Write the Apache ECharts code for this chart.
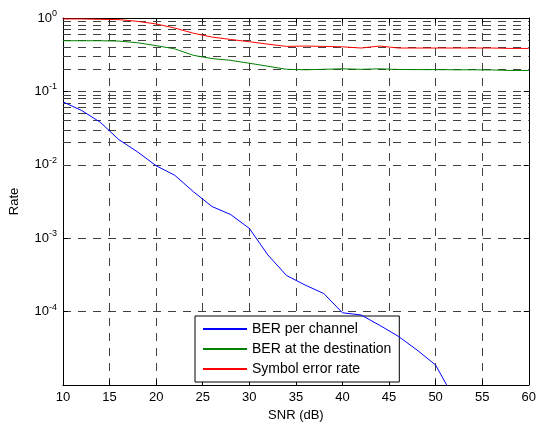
<!DOCTYPE html>
<html>
<head>
<meta charset="utf-8">
<script src="https://cdn.jsdelivr.net/npm/echarts@6/dist/echarts.min.js"></script>
<style>html,body{margin:0;padding:0;background:#fff}#c{width:539px;height:430px}</style>
</head>
<body>
<div id="c"></div>
<script>
var snr = [10,12,14,16,18,20,22,24,26,28,30,32,34,36,38,40,42,44,46,48,50,52,54,56,58,60];
var berChannel = [0.072,0.055,0.038,0.022,0.015,0.0097,0.0072,0.0043,0.0027,0.0021,0.00136,0.00059,0.00031,0.00023,0.000176,0.0000963,0.00009,0.000065,0.000046,0.00003,0.0000187,0.0000065];
var berDest = [0.49,0.49,0.49,0.485,0.46,0.42,0.38,0.31,0.28,0.265,0.242,0.22,0.2,0.197,0.2,0.203,0.2,0.203,0.199,0.198,0.198,0.197,0.197,0.196,0.193,0.193];
var ser = [0.97,0.97,0.96,0.95,0.9,0.83,0.73,0.62,0.55,0.51,0.475,0.44,0.41,0.415,0.41,0.405,0.39,0.415,0.39,0.39,0.39,0.39,0.39,0.39,0.385,0.385];
var seriesNames = ['BER per channel','BER at the destination','Symbol error rate'];
var xTicks = {min:10, max:60, interval:5};
var yRange = {min:1e-5, max:1};
var minorGrid = [];
[-5,-4,-3,-2,-1].forEach(function(k){ for (var m=2;m<=9;m++) minorGrid.push(+(m*Math.pow(10,k)).toPrecision(3)); });

function pairs(ys){ return ys.map(function(v,i){ return [snr[i], v]; }); }
var font = "'Liberation Sans', Arial, sans-serif";
var dash = [8,7];
var gridColor = '#404040';

var chart = echarts.init(document.getElementById('c'), null, {renderer:'canvas'});
chart.setOption({
  animation:false,
  backgroundColor:'#fff',
  textStyle:{fontFamily:font, color:'#000'},
  grid:{left:63, right:9, top:18, bottom:45, show:false},
  legend:{
    orient:'vertical', left:195, top:316,
    backgroundColor:'#fff', borderColor:'#000', borderWidth:1,
    padding:[6,8,6,8], itemGap:6, itemWidth:44, itemHeight:2,
    icon:'rect',
    textStyle:{fontFamily:font, fontSize:14, color:'#000', lineHeight:14},
    data:seriesNames
  },
  xAxis:[{
    type:'value', min:xTicks.min, max:xTicks.max, interval:xTicks.interval,
    name:'SNR (dB)', nameLocation:'middle', nameGap:22,
    nameTextStyle:{fontFamily:font, fontSize:13, color:'#000'},
    axisLine:{lineStyle:{color:'#000', width:1}},
    axisTick:{inside:true, length:5, lineStyle:{color:'#000'}},
    axisLabel:{fontFamily:font, fontSize:13, color:'#000', margin:6},
    splitLine:{show:true, lineStyle:{color:gridColor, type:dash, width:1}}
  },{
    type:'value', position:'top', min:xTicks.min, max:xTicks.max, interval:xTicks.interval,
    axisLine:{lineStyle:{color:'#000', width:1}},
    axisTick:{inside:true, length:5, lineStyle:{color:'#000'}},
    axisLabel:{show:false}, splitLine:{show:false}
  }],
  yAxis:[{
    type:'log', logBase:10, min:yRange.min, max:yRange.max,
    name:'Rate', nameLocation:'middle', nameGap:42, nameRotate:90,
    nameTextStyle:{fontFamily:font, fontSize:13, color:'#000'},
    axisLine:{show:true, lineStyle:{color:'#000', width:1}},
    axisTick:{inside:true, length:5, lineStyle:{color:'#000'}},
    axisLabel:{
      showMinLabel:false, margin:6, fontFamily:font, color:'#000',
      formatter:function(v){ var e = Math.round(Math.log10(v)); return '{b|10}{s|' + e + '}'; },
      rich:{ b:{fontSize:13, fontFamily:font, color:'#000'}, s:{fontSize:9, fontFamily:font, color:'#000', padding:[0,0,9,0]} }
    },
    splitLine:{show:true, lineStyle:{color:gridColor, type:dash, width:1}}
  },{
    type:'log', logBase:10, min:yRange.min, max:yRange.max, position:'right',
    axisLine:{show:true, lineStyle:{color:'#000', width:1}},
    axisTick:{inside:true, length:5, lineStyle:{color:'#000'}},
    axisLabel:{show:false}, splitLine:{show:false}
  }],
  series:[{
    name:seriesNames[0], type:'line', data:pairs(berChannel), showSymbol:false, symbol:'none', clip:true,
    lineStyle:{color:'#0000ff', width:1}, itemStyle:{color:'#0000ff'}, z:5,
    markLine:{
      silent:true, symbol:['none','none'], label:{show:false}, animation:false,
      lineStyle:{color:gridColor, type:dash, width:1},
      emphasis:{disabled:true},
      data:minorGrid.map(function(v){ return {yAxis:v}; })
    }
  },{
    name:seriesNames[1], type:'line', data:pairs(berDest), showSymbol:false, symbol:'none',
    lineStyle:{color:'#008000', width:1}, itemStyle:{color:'#008000'}, z:5
  },{
    name:seriesNames[2], type:'line', data:pairs(ser), showSymbol:false, symbol:'none',
    lineStyle:{color:'#ff0000', width:1}, itemStyle:{color:'#ff0000'}, z:5
  }]
});
</script>
</body>
</html>
